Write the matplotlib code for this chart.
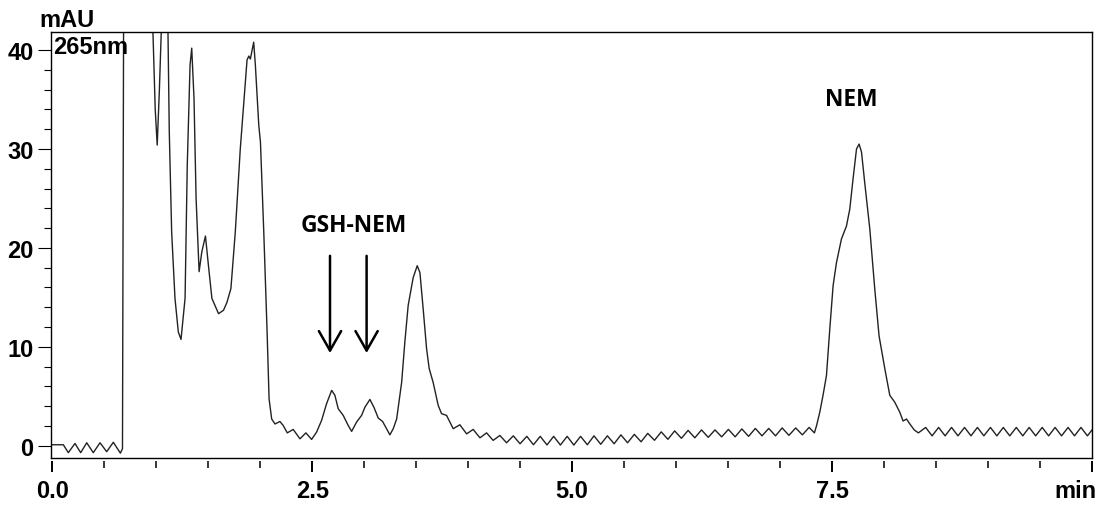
import numpy as np
import matplotlib
matplotlib.use("Agg")
import matplotlib.pyplot as plt

plt.rcParams['font.family'] = ['Liberation Sans', 'DejaVu Sans']
plt.rcParams['font.weight'] = 'bold'

# chromatogram trace (time in min, signal in mAU)
front_t = [0.0, 0.106, 0.154, 0.218, 0.273, 0.331, 0.394, 0.459, 0.523, 0.587, 0.655, 0.675, 0.69,
           0.94, 0.968, 0.99, 1.009, 1.03, 1.05, 1.08, 1.11, 1.125, 1.148, 1.18, 1.212, 1.238,
           1.277, 1.298, 1.325, 1.341, 1.363, 1.383, 1.412, 1.438, 1.473, 1.502, 1.535, 1.599,
           1.647, 1.68, 1.718, 1.76, 1.808, 1.873, 1.89, 1.905, 1.937, 1.953, 1.986, 2.002,
           2.034, 2.066, 2.085, 2.11, 2.142]
front_v = [0.1, 0.1, -0.7, 0.23, -0.7, 0.3, -0.7, 0.3, -0.6, 0.35, -0.75, -0.3, 60,
           60, 41.8, 34.0, 30.4, 36.0, 42.5, 60, 44.0, 31.8, 21.6, 14.9, 11.5, 10.75,
           14.9, 28.3, 38.5, 40.2, 35.1, 25.0, 17.6, 19.6, 21.2, 18.2, 14.9, 13.35,
           13.7, 14.5, 15.9, 21.6, 30.0, 39.0, 39.4, 39.1, 40.8, 38.5, 32.4, 30.7,
           21.6, 11.5, 4.75, 2.7, 2.2]

gsh_t = [2.189, 2.221, 2.26, 2.317, 2.382, 2.439, 2.494, 2.542, 2.59, 2.638, 2.687, 2.718,
         2.75, 2.798, 2.846, 2.879, 2.927, 2.975, 3.007, 3.055, 3.093, 3.135, 3.177, 3.215,
         3.247, 3.279, 3.312, 3.36, 3.391, 3.423, 3.471, 3.51, 3.536, 3.567, 3.6, 3.625,
         3.663, 3.712, 3.744, 3.792, 3.856, 3.92, 3.985, 4.048, 4.113, 4.177, 4.24, 4.305]
gsh_v = [2.45, 2.05, 1.3, 1.65, 0.7, 1.3, 0.64, 1.38, 2.56, 4.25, 5.6, 5.1,
         3.74, 3.07, 2.05, 1.45, 2.4, 3.07, 3.9, 4.68, 3.9, 2.8, 2.45, 1.72,
         1.1, 1.72, 2.7, 6.4, 10.5, 14.2, 17.0, 18.2, 17.5, 13.85, 9.8, 7.8,
         6.4, 4.07, 3.24, 3.07, 1.72, 2.12, 1.2, 1.65, 0.8, 1.3, 0.54, 1.04]

base_t = [4.369, 4.434, 4.499, 4.564, 4.628, 4.693, 4.758, 4.822, 4.887, 4.952, 5.016, 5.081,
          5.146, 5.210, 5.275, 5.339, 5.404, 5.469, 5.533, 5.598, 5.663, 5.727, 5.792, 5.857,
          5.921, 5.986, 6.051, 6.115, 6.180, 6.244, 6.309, 6.374, 6.438, 6.503, 6.568, 6.632,
          6.697, 6.762, 6.826, 6.891, 6.956, 7.020, 7.085, 7.150, 7.214, 7.279]
base_v = [0.3, 1.0, 0.2, 0.95, 0.1, 0.95, 0.08, 0.95, 0.07, 0.95, 0.07, 0.95,
          0.1, 1.0, 0.15, 1.0, 0.2, 1.1, 0.3, 1.15, 0.4, 1.25, 0.55, 1.4,
          0.65, 1.5, 0.75, 1.55, 0.8, 1.6, 0.85, 1.6, 0.9, 1.65, 0.9, 1.7,
          0.95, 1.75, 1.0, 1.75, 1.0, 1.8, 1.05, 1.8, 1.1, 1.85]

nem_t = [7.33, 7.35, 7.382, 7.413, 7.446, 7.478, 7.51, 7.542, 7.59, 7.638, 7.67, 7.702,
         7.735, 7.76, 7.783, 7.814, 7.863, 7.911, 7.952, 8.007, 8.055, 8.103, 8.151, 8.183,
         8.216, 8.248, 8.29, 8.33]
nem_v = [1.3, 2.0, 3.4, 5.1, 7.1, 11.8, 16.2, 18.5, 20.9, 22.2, 23.9, 27.0,
         30.0, 30.5, 29.7, 26.6, 21.9, 15.8, 11.1, 7.8, 5.1, 4.4, 3.4, 2.5,
         2.7, 2.2, 1.6, 1.3]

tail_t = [8.40, 8.462, 8.525, 8.587, 8.649, 8.711, 8.774, 8.836, 8.898, 8.96, 9.023, 9.085,
          9.147, 9.209, 9.272, 9.334, 9.396, 9.458, 9.521, 9.583, 9.645, 9.707, 9.77, 9.832,
          9.894, 9.956, 10.019]
tail_v = [1.85, 1.0, 1.85, 1.0, 1.85, 1.0, 1.85, 1.0, 1.85, 1.0, 1.85, 1.0,
          1.85, 1.0, 1.85, 1.0, 1.85, 1.0, 1.85, 1.0, 1.85, 1.0, 1.85, 1.0,
          1.85, 1.0, 1.85]

x_ticks = [0, 2.5, 5, 7.5, 10]
x_labels = ['0.0', '2.5', '5.0', '7.5', '']
y_ticks = [0, 10, 20, 30, 40]
arrow_x = [2.671, 3.023]

t = np.concatenate([front_t, gsh_t, base_t, nem_t, tail_t])
v = np.concatenate([front_v, gsh_v, base_v, nem_v, tail_v])

fig = plt.figure(figsize=(11.11, 5.06), dpi=100)
ax = fig.add_axes([51 / 1111, 1 - 459 / 506, 1041 / 1111, 426 / 506])
ax.plot(t, v, color='#222222', lw=1.0, solid_joinstyle='round')
ax.set_xlim(-0.0125, 10.0)
ax.set_ylim(-1.24, 41.83)

for s in ax.spines.values():
    s.set_linewidth(1.0)

# y axis
ax.set_yticks(y_ticks)
ax.set_yticks(np.arange(0, 42, 2), minor=True)
ax.tick_params(axis='y', which='major', length=9.5, width=0.8, pad=3, labelsize=17)
ax.tick_params(axis='y', which='minor', length=5, width=0.8)

# x axis ticks sit a little below the frame
ax.tick_params(axis='x', which='both', bottom=False, labelbottom=False)
sec = ax.secondary_xaxis(-0.007)
sec.spines['bottom'].set_visible(False)
sec.set_xticks(x_ticks, labels=x_labels)
sec.set_xticks(np.arange(0, 10.01, 0.5), minor=True)
sec.tick_params(axis='x', which='major', length=8, width=1.4, pad=5, labelsize=17)
sec.tick_params(axis='x', which='minor', length=5, width=1.1)

fig.text(1075 / 1111, 1 - 498.3 / 506, 'min', ha='center', va='baseline', fontsize=17)
fig.text(39 / 1111, 1 - 26.7 / 506, 'mAU', ha='left', va='baseline', fontsize=17)
fig.text(52.7 / 1111, 1 - 54 / 506, '265nm', ha='left', va='baseline', fontsize=17)

ax.text(2.903, 21.7, 'GSH-NEM', ha='center', va='baseline', fontsize=16.4,
        family=['Open Sans', 'DejaVu Sans'], fontweight='bold')
ax.text(7.685, 34.5, 'NEM', ha='center', va='baseline', fontsize=16.4,
        family=['Open Sans', 'DejaVu Sans'], fontweight='bold')

for xa in arrow_x:
    ax.annotate('', xy=(xa, 9.37), xytext=(xa, 19.2),
                arrowprops=dict(arrowstyle='->,head_length=0.7,head_width=0.4',
                                lw=1.8, color='black', mutation_scale=20,
                                shrinkA=0, shrinkB=0))

fig.savefig('out.png', dpi=100)
